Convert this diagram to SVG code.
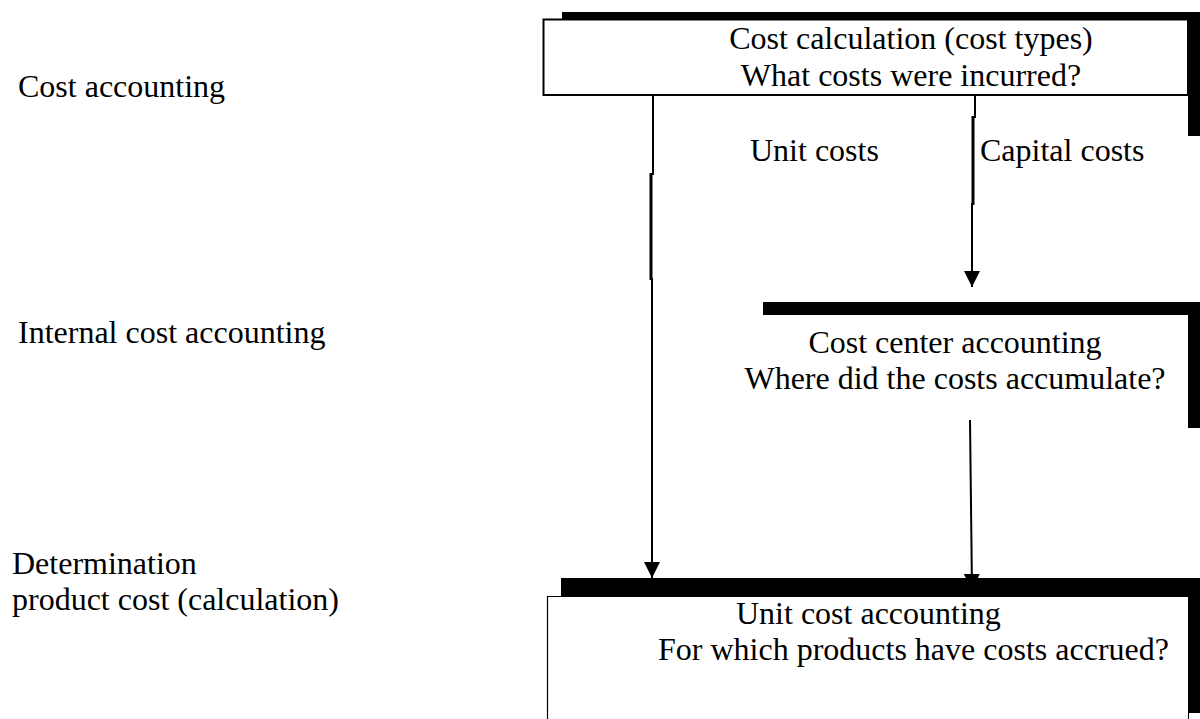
<svg xmlns="http://www.w3.org/2000/svg" width="1200" height="719" viewBox="0 0 1200 719">
<style>
text{font-family:"Liberation Serif","Times New Roman",serif;font-size:32px;fill:#000}
.sh{fill:#000}
.ln{stroke:#000;fill:none}
</style>
<defs>
<marker id="ah" markerWidth="16" markerHeight="16" refX="16" refY="8" orient="auto" markerUnits="userSpaceOnUse">
<path d="M0,0 L16,8 L0,16 Z" fill="#000"/>
</marker>
</defs>
<rect width="1200" height="719" fill="#fff"/>
<g id="labels">
<text x="18" y="97">Cost accounting</text>
<text x="18" y="343">Internal cost accounting</text>
<text x="12" y="574">Determination</text>
<text x="12" y="610">product cost (calculation)</text>
</g>
<g id="connectors">
<line class="ln" x1="653" y1="95" x2="653" y2="175" stroke-width="2"/>
<line class="ln" x1="651" y1="173" x2="651" y2="280" stroke-width="3"/>
<line class="ln" x1="652" y1="278" x2="652" y2="578" stroke-width="2" marker-end="url(#ah)"/>
<line class="ln" x1="975" y1="95" x2="975" y2="118" stroke-width="2"/>
<line class="ln" x1="973" y1="116" x2="973" y2="205" stroke-width="3"/>
<line class="ln" x1="972" y1="203" x2="972" y2="287" stroke-width="2" marker-end="url(#ah)"/>
<line class="ln" x1="970" y1="420" x2="972" y2="590" stroke-width="2" marker-end="url(#ah)"/>
<text x="750" y="161">Unit costs</text>
<text x="980" y="161">Capital costs</text>
</g>
<g id="node-cost-calculation">
<rect class="sh" x="562" y="12" width="638" height="8"/>
<rect class="sh" x="1188" y="12" width="12" height="124"/>
<rect x="543.5" y="19.5" width="644.5" height="75.5" fill="#fff" stroke="#000" stroke-width="2"/>
<text x="911" y="49" text-anchor="middle">Cost calculation (cost types)</text>
<text x="911" y="86" text-anchor="middle">What costs were incurred?</text>
</g>
<g id="node-cost-center">
<rect class="sh" x="763" y="302" width="437" height="13"/>
<rect class="sh" x="1188" y="302" width="12" height="126"/>
<text x="955" y="353" text-anchor="middle">Cost center accounting</text>
<text x="955" y="389" text-anchor="middle">Where did the costs accumulate?</text>
</g>
<g id="node-unit-cost">
<path class="ln" d="M561,596.5 H547.5 V719" stroke-width="1.2"/>
<rect class="sh" x="561" y="578" width="639" height="19"/>
<rect class="sh" x="1188" y="578" width="12" height="135"/>
<line class="ln" x1="1188.5" y1="713" x2="1188.5" y2="719" stroke-width="1"/>
<text x="736" y="624">Unit cost accounting</text>
<text x="658" y="660">For which products have costs accrued?</text>
</g>
</svg>
